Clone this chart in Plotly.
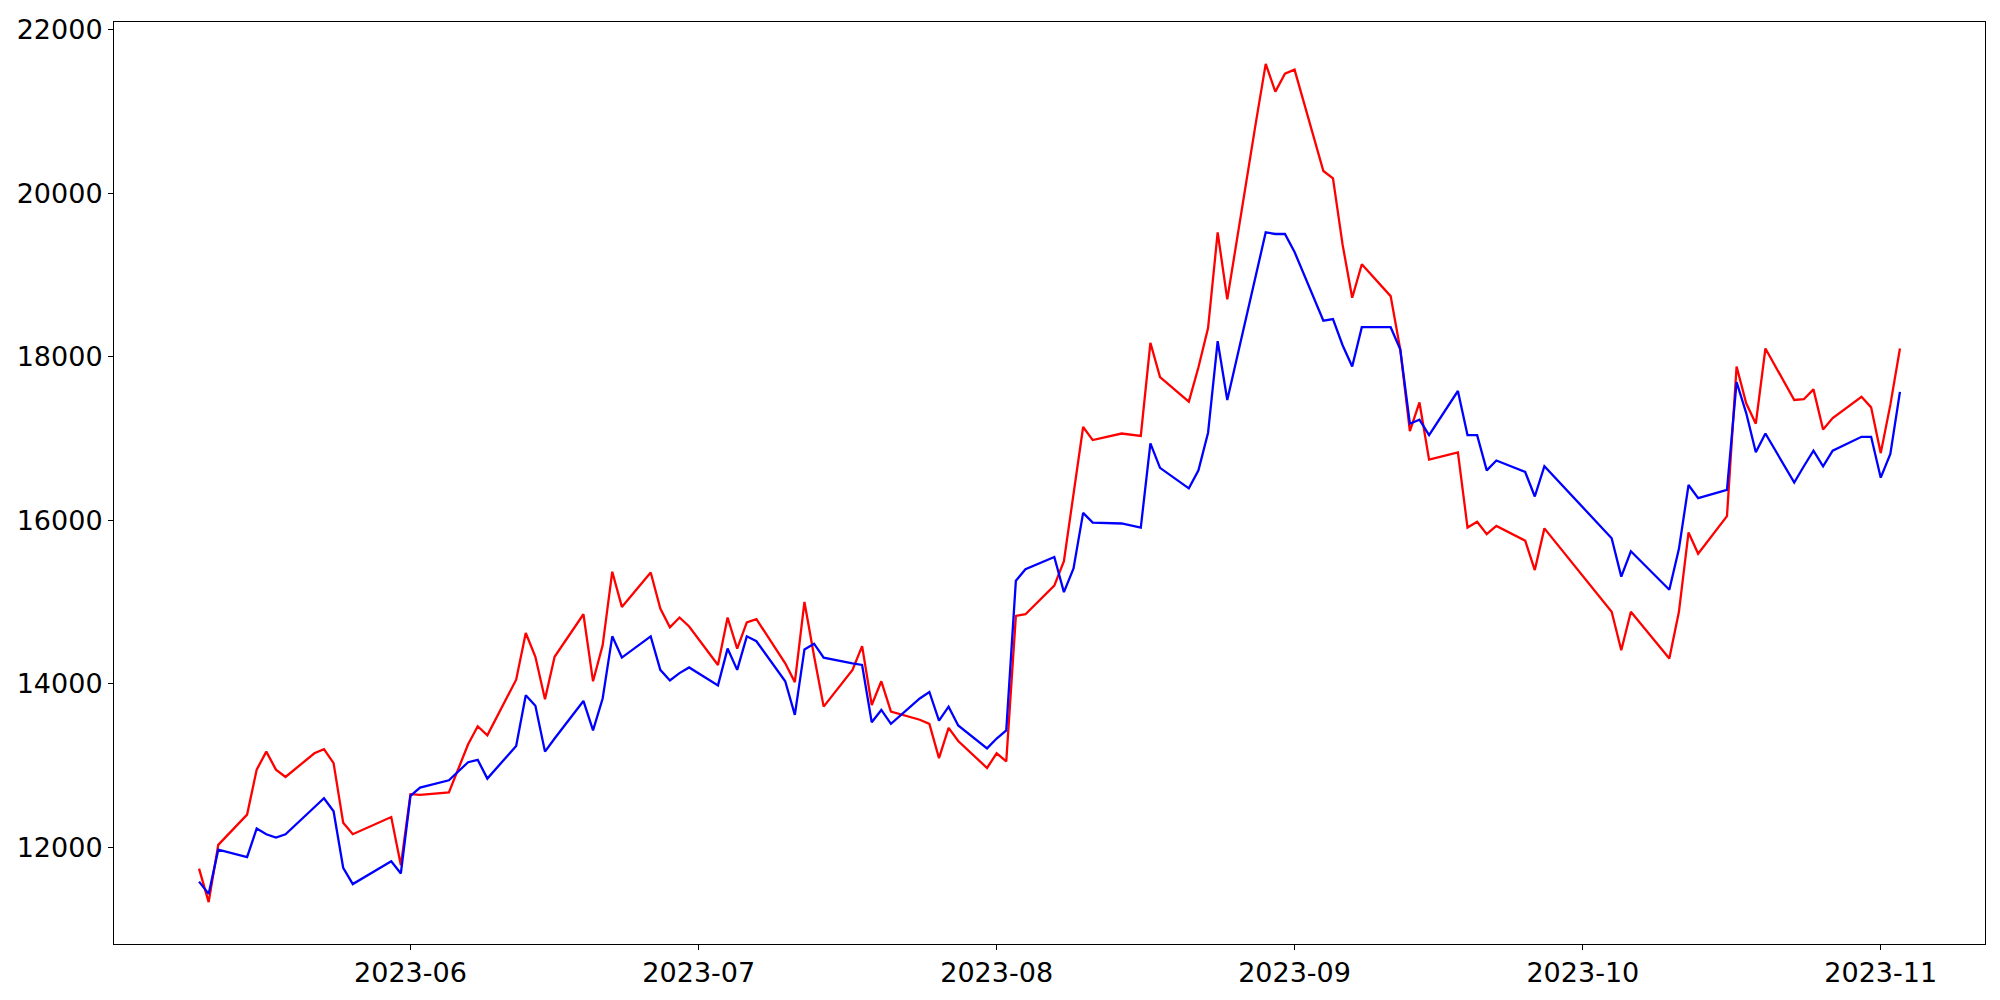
import plotly.graph_objects as go

dates = (
    ["2023-05-%02d" % d for d in [10, 11, 12, 15, 16, 17, 18, 19, 22, 23, 24, 25, 26, 30, 31]]
    + ["2023-06-%02d" % d for d in [1, 2, 5, 7, 8, 9, 12, 13, 14, 15, 16, 19, 20, 21, 22, 23, 26, 27, 28, 29, 30]]
    + ["2023-07-%02d" % d for d in [3, 4, 5, 6, 7, 10, 11, 12, 13, 14, 17, 18, 19, 20, 21, 24, 25, 26, 27, 28, 31]]
    + ["2023-08-%02d" % d for d in [1, 2, 3, 4, 7, 8, 9, 10, 11, 14, 16, 17, 18, 21, 22, 23, 24, 25, 28, 29, 30, 31]]
    + ["2023-09-%02d" % d for d in [1, 4, 5, 6, 7, 8, 11, 12, 13, 14, 15, 18, 19, 20, 21, 22, 25, 26, 27]]
    + ["2023-10-%02d" % d for d in [4, 5, 6, 10, 11, 12, 13, 16, 17, 18, 19, 20, 23, 24, 25, 26, 27, 30, 31]]
    + ["2023-11-%02d" % d for d in [1, 2, 3]]
)

red_values = [
    11740, 11330, 12030, 12400, 12950, 13170, 12950, 12860, 13150, 13200, 13030, 12300, 12160, 12370, 11780,
    12650, 12640, 12670, 13260, 13480, 13370, 14050, 14620, 14330, 13810, 14330, 14850, 14030, 14470, 15370,
    14940, 15360, 14920, 14690, 14810, 14700,
    14230, 14810, 14430, 14750, 14790, 14250, 14020, 15000, 14340, 13720, 14170, 14460, 13740, 14030, 13660,
    13560, 13510, 13090, 13460, 13300, 12970,
    13150, 13050, 14830, 14850, 15200, 15500, 16320, 17140, 16980, 17060, 17030, 18170, 17750, 17450, 17870,
    18350, 19520, 18700, 20880, 21580, 21240, 21460,
    21510, 20270, 20180, 19370, 18720, 19130, 18740, 18090, 17090, 17440, 16740, 16830, 15910, 15980, 15830,
    15930, 15750, 15390, 15900,
    14880, 14410, 14880, 14310, 14880, 15850, 15590, 16050, 17880, 17430, 17180, 18100, 17470, 17480, 17600,
    17110, 17250, 17510, 17380,
    16820, 17410, 18100,
]

blue_values = [
    11580, 11430, 11970, 11880, 12230, 12160, 12120, 12160, 12490, 12600, 12440, 11750, 11550, 11830, 11680,
    12630, 12730, 12820, 13040, 13070, 12840, 13240, 13860, 13730, 13170, 13330, 13790, 13430, 13820, 14580,
    14320, 14580, 14170, 14040, 14130, 14200,
    13980, 14430, 14170, 14580, 14520, 14030, 13620, 14420, 14490, 14320, 14250, 14230, 13530, 13680, 13510,
    13820, 13900, 13550, 13720, 13490, 13210,
    13330, 13430, 15260, 15400, 15550, 15120, 15410, 16090, 15970, 15960, 15910, 16940, 16640, 16390, 16610,
    17070, 18190, 17470, 19020, 19520, 19500, 19500,
    19280, 18440, 18460, 18140, 17880, 18360, 18360, 18090, 17180, 17230, 17040, 17580, 17040, 17040, 16610,
    16730, 16590, 16290, 16660,
    15780, 15310, 15620, 15150, 15650, 16430, 16270, 16370, 17690, 17310, 16830, 17060, 16460, 16660, 16850,
    16660, 16850, 17020, 17020,
    16520, 16810, 17570,
]

y_ticks = [12000, 14000, 16000, 18000, 20000, 22000]
x_ticks = ["2023-06-01", "2023-07-01", "2023-08-01", "2023-09-01", "2023-10-01", "2023-11-01"]
x_tick_labels = ["2023-06", "2023-07", "2023-08", "2023-09", "2023-10", "2023-11"]

# autoscale like matplotlib (5% margins)
allv = red_values + blue_values
lo, hi = min(allv), max(allv)
pad = (hi - lo) * 0.05
y_range = [lo - pad, hi + pad]
x_range = ["2023-05-01 03:36", "2023-11-11 20:24"]

fig = go.Figure()
fig.add_trace(go.Scatter(x=dates, y=red_values, mode="lines",
                         line=dict(color="#ff0000", width=2.3), showlegend=False))
fig.add_trace(go.Scatter(x=dates, y=blue_values, mode="lines",
                         line=dict(color="#0000ff", width=2.3), showlegend=False))

axis_common = dict(
    showgrid=False, zeroline=False, showline=True, linecolor="black", linewidth=1,
    mirror=True, ticks="outside", ticklen=5, tickwidth=1, tickcolor="black",
    tickfont=dict(family="DejaVu Sans", size=27, color="black"),
)

fig.update_layout(
    width=2000, height=1000,
    margin=dict(l=114, r=15, t=22, b=53, pad=0),
    paper_bgcolor="white", plot_bgcolor="white",
    xaxis=dict(type="date", range=x_range, tickvals=x_ticks, ticktext=x_tick_labels, **axis_common),
    yaxis=dict(range=y_range, tickvals=y_ticks, ticktext=[str(v) for v in y_ticks], **axis_common),
)

fig.write_html("out.html", config={"displayModeBar": False},
               post_script="document.body.style.margin='0';document.body.style.overflow='hidden';")
